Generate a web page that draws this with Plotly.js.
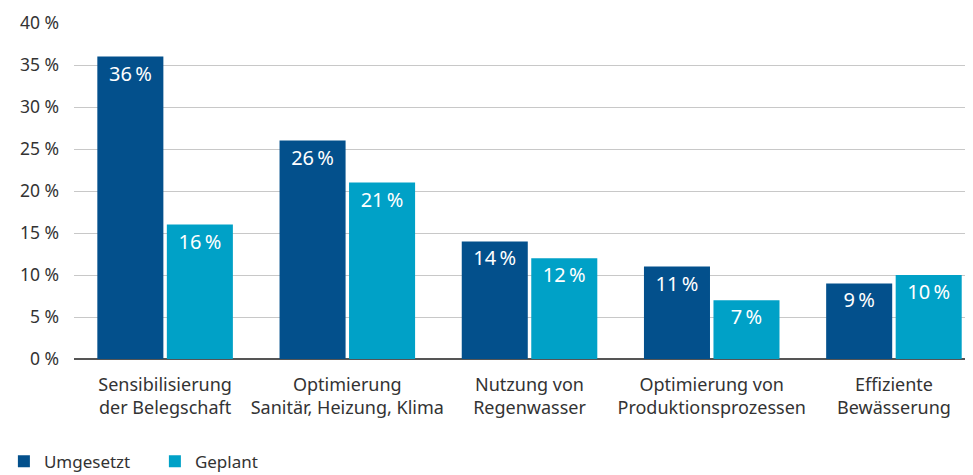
<!DOCTYPE html>
<html><head><meta charset="utf-8">
<script src="https://cdn.plot.ly/plotly-3.0.1.min.js"></script>
<style>html,body{margin:0;padding:0;background:#fff}#chart{width:973px;height:475px}</style>
</head><body><div id="chart"></div>
<script>
const categories = [
  "Sensibilisierung<br>der Belegschaft",
  "Optimierung<br>Sanitär, Heizung, Klima",
  "Nutzung von<br>Regenwasser",
  "Optimierung von<br>Produktionsprozessen",
  "Effiziente<br>Bewässerung"
];
const umgesetzt = [36, 26, 14, 11, 9];
const geplant = [16, 21, 12, 7, 10];
const yTicks = [0, 5, 10, 15, 20, 25, 30, 35, 40];

const font = "Noto Sans, DejaVu Sans, sans-serif";
const xIdx = categories.map((c, i) => i);

function barTrace(name, values, color) {
  return {type: 'bar', name: name, x: xIdx, y: values,
    marker: {color: color}, text: values.map(v => v + '\u2009%'), textposition: 'inside',
    insidetextanchor: 'end', textangle: 0, constraintext: 'none', cliponaxis: false,
    textfont: {color: '#ffffff', size: 20, family: font}, hoverinfo: 'skip'};
}

const traces = [
  barTrace('Umgesetzt', umgesetzt, '#03508c'),
  barTrace('Geplant', geplant, '#00a1c7')
];

const layout = {
  width: 973, height: 475,
  margin: {l: 74, r: 8, t: 23, b: 116},
  paper_bgcolor: '#fff', plot_bgcolor: '#fff',
  font: {family: font, size: 17, color: '#333333'},
  barmode: 'group', bargap: 0.237, bargroupgap: 0.05,
  showlegend: true,
  legend: {orientation: 'h', xref: 'container', yref: 'container', x: 0.004, y: 0.028,
           xanchor: 'left', yanchor: 'middle', font: {size: 17, color: '#333'},
           itemwidth: 30, entrywidth: 106, entrywidthmode: 'pixels', traceorder: 'normal'},
  xaxis: {range: [-0.5, 4.39], tickmode: 'array', tickvals: xIdx, ticktext: categories,
          showgrid: false, zeroline: false, showline: false, ticks: '', fixedrange: true,
          ticklabelstandoff: 13, tickfont: {size: 18, color: '#333'}},
  yaxis: {range: [0, 40], tickmode: 'array', tickvals: yTicks,
          ticktext: yTicks.map(v => v + ' %'), showgrid: true, gridcolor: '#c8c8c8',
          gridwidth: 1, zeroline: true, zerolinecolor: '#555', zerolinewidth: 1.5,
          showline: false, ticks: '', ticklabelstandoff: 14, tickfont: {size: 17.5, color: '#333'}}
};

Plotly.newPlot('chart', traces, layout, {displayModeBar: false, staticPlot: true});
</script></body></html>
